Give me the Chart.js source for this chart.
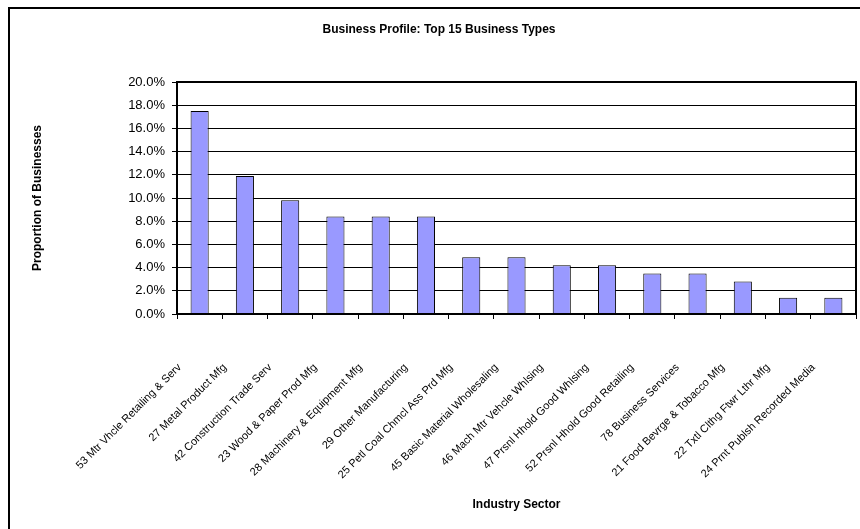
<!DOCTYPE html>
<html>
<head>
  <title>Business Profile</title>
  <script src="https://cdn.jsdelivr.net/npm/chart.js"></script>
  <style>
    body {
        margin: 0;
        background: #fff;
        font-family: Arial, "Liberation Sans", sans-serif;
    }
    .page {
        position: relative;
        width: 860px;
        height: 529px;
        overflow: hidden;
    }
    .frame {
        position: absolute;
        left: 8px;
        top: 7px;
        width: 1000px;
        height: 1000px;
        border: 2px solid #000;
    }
    .chart-box {
        position: absolute;
        left: 0;
        top: 0;
        width: 860px;
        height: 529px;
    }
  </style>
</head>
<body>
  <div class="page">
    <div class="frame"></div>
    <div class="chart-box">
      <canvas id="profileChart"></canvas>
    </div>
  </div>

  <script>
    // 업종 (x축)
    const sectors = [
      "53 Mtr Vhcle Retailing & Serv",
      "27 Metal Product Mfg",
      "42 Construction Trade Serv",
      "23 Wood & Paper Prod Mfg",
      "28 Machinery & Equipment Mfg",
      "29 Other Manufacturing",
      "25 Petl Coal Chmcl Ass Prd Mfg",
      "45 Basic Material Wholesaling",
      "46 Mach Mtr Vehcle Whlsing",
      "47 Prsnl Hhold Good Whlsing",
      "52 Prsnl Hhold Good Retailing",
      "78 Business Services",
      "21 Food Bevrge & Tobacco Mfg",
      "22 Txtl Clthg Ftwr Lthr Mfg",
      "24 Prnt Publsh Recorded Media"
    ];

    // 비율 (%)
    const proportions = [17.5, 11.9, 9.8, 8.4, 8.4, 8.4, 4.9, 4.9, 4.2, 4.2, 3.5, 3.5, 2.8, 1.4, 1.4];

    // y축 눈금
    const yMin = 0;
    const yMax = 20;
    const yStep = 2;

    // 플롯 영역 테두리
    const plotBorder = {
      id: 'plotBorder',
      afterDraw(chart) {
        const a = chart.chartArea;
        const ctx = chart.ctx;
        ctx.save();
        ctx.strokeStyle = '#000';
        ctx.lineWidth = 2;
        ctx.strokeRect(a.left, a.top, a.right - a.left, a.bottom - a.top);
        ctx.restore();
      }
    };

    const ctx = document.getElementById('profileChart').getContext('2d');
    new Chart(ctx, {
      type: 'bar',
      data: {
        labels: sectors,
        datasets: [{
          label: 'Proportion of Businesses',
          data: proportions,
          backgroundColor: '#9999ff',
          borderColor: '#000',
          borderWidth: 1,
          categoryPercentage: 1,
          barPercentage: 0.4
        }]
      },
      options: {
        responsive: true,
        maintainAspectRatio: false,
        animation: false,
        layout: {
          padding: { left: 22, right: 4, top: 0, bottom: 0 }
        },
        plugins: {
          legend: { display: false },
          tooltip: { enabled: false },
          title: {
            display: true,
            text: 'Business Profile: Top 15 Business Types',
            color: '#000',
            font: { family: 'Arial', size: 12, weight: 'bold' },
            padding: { top: 22.8, bottom: 44.8 }
          }
        },
        scales: {
          x: {
            afterFit: s => {
              s.height = 215;
              s.paddingLeft = 0;
              s.paddingRight = 0;
            },
            grid: {
              display: true,
              drawOnChartArea: false,
              drawTicks: true,
              tickLength: 5,
              color: '#000',
              lineWidth: 1
            },
            border: { display: true, color: '#000', width: 2 },
            ticks: {
              autoSkip: false,
              maxRotation: 45,
              minRotation: 45,
              padding: 42,
              labelOffset: -20,
              color: '#000',
              font: { family: 'Arial', size: 11 }
            },
            title: {
              display: true,
              text: 'Industry Sector',
              color: '#000',
              font: { family: 'Arial', size: 12, weight: 'bold' },
              padding: { top: 0, bottom: 16.8 }
            }
          },
          y: {
            min: yMin,
            max: yMax,
            afterFit: s => { s.width = 155; },
            grid: {
              color: '#000',
              lineWidth: 1,
              drawTicks: true,
              tickLength: 5
            },
            border: { display: true, color: '#000', width: 2 },
            ticks: {
              stepSize: yStep,
              padding: 7,
              color: '#000',
              font: { family: 'Arial', size: 13 },
              callback: v => v.toFixed(1) + '%'
            },
            title: {
              display: true,
              text: 'Proportion of Businesses',
              color: '#000',
              font: { family: 'Arial', size: 12, weight: 'bold' },
              padding: { top: 8.4, bottom: 0 }
            }
          }
        }
      },
      plugins: [plotBorder]
    });
  </script>
</body>
</html>
